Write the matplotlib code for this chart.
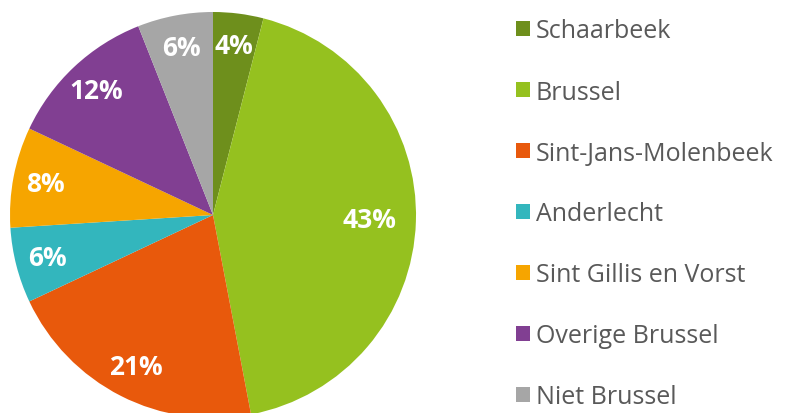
import matplotlib.pyplot as plt
from matplotlib.patches import Patch
import numpy as np

labels = ["Schaarbeek", "Brussel", "Sint-Jans-Molenbeek", "Anderlecht",
          "Sint Gillis en Vorst", "Overige Brussel", "Niet Brussel"]
values = [4, 43, 21, 6, 8, 12, 6]
colors = ["#6e8f1c", "#95c11f", "#e8590c", "#33b6bd", "#f6a500", "#813f92", "#a6a6a6"]

plt.rcParams['font.family'] = ['Open Sans', 'DejaVu Sans']

fig = plt.figure(figsize=(7.93, 4.14), dpi=100)
W, H = 793, 414
cx, cy, r = 213, 216, 203
ax = fig.add_axes([(cx - r) / W, (H - cy - r) / H, 2 * r / W, 2 * r / H])

wedges, texts, autotexts = ax.pie(values, colors=colors, startangle=90, counterclock=False,
                                  radius=1, autopct='%1.0f%%', pctdistance=0.84,
                                  textprops=dict(color='white', fontsize=19, fontweight='bold'))
ax.set_xlim(-1, 1)
ax.set_ylim(-1, 1)
ax.set_aspect('auto')
ax.axis('off')
# largest slice label sits closer to the centre
x, y = autotexts[1].get_position()
autotexts[1].set_position((x * 0.77 / 0.84, y * 0.77 / 0.84))

handles = [Patch(facecolor=c, edgecolor='none') for c in colors]
leg = fig.legend(handles, labels, loc='upper left', bbox_to_anchor=(493 / W, 1 + 3 / H),
                 frameon=False, fontsize=18, labelcolor='#595959', labelspacing=1.44,
                 handlelength=0.56, handleheight=0.56, handletextpad=0.25)

fig.savefig("out.png", dpi=100)
